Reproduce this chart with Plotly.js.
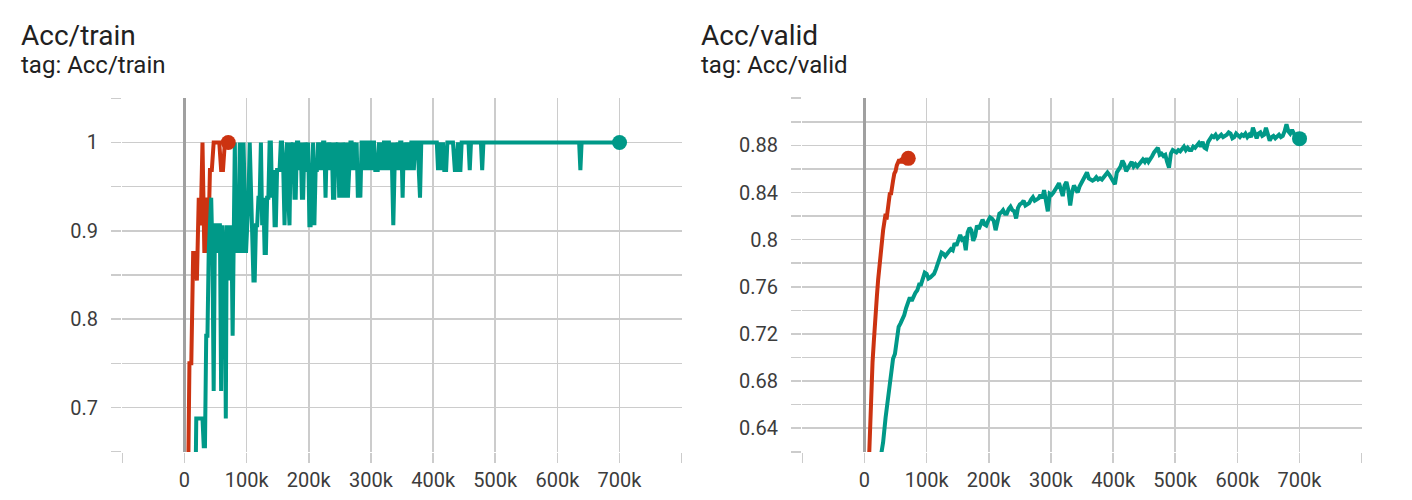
<!DOCTYPE html>
<html><head><meta charset="utf-8">
<script src="https://cdn.plot.ly/plotly-3.0.1.min.js"></script>
<style>html,body{margin:0;padding:0;background:#fff}#chart{width:1412px;height:500px}</style>
</head><body><div id="chart"></div>
<script>
// ---------- data ----------
const trainRedSteps = [5000, 8000, 11000, 14000, 17000, 20000, 23000, 26000, 29000, 32000, 35000, 38000, 41000, 44000, 47000, 50000, 53000, 56000, 59000, 62000, 65000, 68000, 70500];
const trainRedAcc = [0.5625, 0.75, 0.75, 0.875, 0.875, 0.84375, 0.9375, 0.90625, 1.0, 0.875, 0.9375, 0.875, 0.96875, 0.96875, 1.0, 1.0, 1.0, 1.0, 0.96875, 0.96875, 1.0, 1.0, 1.0];

const trainTealSteps = [17500, 19000, 21000, 23000, 25000, 27000, 29000, 31000, 33000, 35000, 37000, 39000, 41000, 43000, 45000, 47000, 49000, 51000, 53000, 55000, 57000, 59000, 61000, 63000, 65000, 66500, 68000, 70000, 72000, 74000, 76000, 77500, 79000, 81000, 83000, 85000, 87000, 89000, 91000, 93000, 95000, 97000, 99000, 101000, 103000, 105000, 107000, 109000, 111000, 113000, 115000, 117000, 119000, 121000, 123000, 125000, 127000, 129000, 131000, 133000, 135000, 137000, 139000, 141000, 143000, 145000, 147000, 149000, 151000, 153000, 155000, 157000, 159000, 161000, 163000, 165000, 167000, 169000, 171000, 173000, 175000, 177000, 179000, 181000, 183000, 185000, 187000, 189000, 191000, 193000, 195000, 197000, 199000, 201000, 203000, 205000, 207000, 209000, 211000, 213000, 215000, 217000, 219000, 221000, 223000, 225000, 227000, 229000, 231000, 233000, 235000, 237000, 239000, 241000, 243000, 245000, 247000, 249000, 251000, 253000, 255000, 257000, 259000, 261000, 263000, 265000, 267000, 269000, 271000, 273000, 275000, 277000, 279000, 281000, 283000, 285000, 287000, 289000, 291000, 293000, 295000, 297000, 299000, 301000, 303000, 305000, 307000, 309000, 311000, 313000, 315000, 317000, 319000, 321000, 323000, 325000, 327000, 329000, 331000, 333000, 336000, 339000, 341000, 343000, 345000, 347000, 349000, 351000, 353000, 355000, 357000, 359000, 361000, 363000, 365000, 367000, 369000, 371000, 373000, 375000, 377000, 379000, 381000, 406000, 408000, 410000, 413000, 416000, 418000, 421000, 423000, 432000, 435000, 437000, 440000, 442000, 444000, 446000, 457000, 459000, 461000, 477000, 479000, 481000, 635000, 637000, 639000, 700000];
const trainTealAcc = [0.59375, 0.6875, 0.6875, 0.6875, 0.6875, 0.6875, 0.6875, 0.65625, 0.65625, 0.78125, 0.78125, 0.875, 0.90625, 0.9375, 0.875, 0.71875, 0.90625, 0.90625, 0.875, 0.90625, 0.90625, 0.71875, 0.90625, 0.875, 0.84375, 0.6875, 0.90625, 0.875, 0.84375, 0.90625, 0.875, 0.78125, 0.90625, 1.0, 0.875, 0.9375, 0.875, 1.0, 0.90625, 0.875, 1.0, 0.9375, 0.875, 0.90625, 0.9375, 1.0, 0.9375, 0.90625, 0.84375, 0.84375, 0.90625, 0.90625, 0.9375, 0.9375, 1.0, 0.90625, 0.9375, 0.875, 0.875, 0.9375, 0.9375, 1.0, 1.0, 0.9375, 0.96875, 0.90625, 0.90625, 0.96875, 0.96875, 0.96875, 1.0, 1.0, 0.96875, 0.90625, 0.96875, 1.0, 0.9375, 0.90625, 1.0, 0.96875, 1.0, 0.9375, 0.9375, 1.0, 1.0, 0.96875, 1.0, 0.9375, 0.9375, 1.0, 0.96875, 0.96875, 1.0, 0.90625, 0.90625, 0.96875, 1.0, 0.90625, 0.96875, 0.96875, 1.0, 0.96875, 1.0, 0.96875, 1.0, 1.0, 0.9375, 1.0, 0.96875, 1.0, 0.96875, 1.0, 0.9375, 0.9375, 1.0, 0.96875, 1.0, 0.9375, 1.0, 0.9375, 1.0, 0.96875, 0.9375, 1.0, 0.9375, 0.96875, 1.0, 1.0, 0.96875, 1.0, 0.96875, 1.0, 0.9375, 0.96875, 0.9375, 1.0, 1.0, 0.96875, 1.0, 1.0, 0.96875, 1.0, 1.0, 0.96875, 1.0, 1.0, 0.96875, 0.96875, 0.96875, 1.0, 0.96875, 1.0, 0.96875, 1.0, 1.0, 0.96875, 1.0, 1.0, 0.96875, 1.0, 0.90625, 1.0, 0.96875, 1.0, 0.96875, 1.0, 1.0, 0.9375, 1.0, 0.96875, 1.0, 0.96875, 1.0, 0.96875, 1.0, 1.0, 0.96875, 1.0, 1.0, 1.0, 0.96875, 0.9375, 1.0, 1.0, 0.96875, 1.0, 0.96875, 1.0, 0.96875, 0.96875, 1.0, 1.0, 0.96875, 0.96875, 1.0, 0.96875, 0.96875, 1.0, 1.0, 0.96875, 1.0, 1.0, 0.96875, 1.0, 1.0, 0.96875, 1.0, 1.0];

const validRedSteps = [5000, 7000, 9000, 11000, 13000, 15000, 17000, 18500, 20000, 22000, 24000, 26000, 28000, 30000, 32000, 34000, 35500, 37000, 39000, 41000, 42500, 44000, 46000, 48000, 50000, 52000, 54000, 56000, 58000, 60000, 62000, 64000, 66000, 68000, 70500];
const validRedAcc = [0.58, 0.615, 0.652, 0.672, 0.696, 0.713, 0.733, 0.738, 0.752, 0.766, 0.777, 0.791, 0.800, 0.808, 0.815, 0.822, 0.817, 0.825, 0.834, 0.840, 0.838, 0.846, 0.850, 0.856, 0.858, 0.863, 0.866, 0.868, 0.865, 0.869, 0.867, 0.868, 0.866, 0.869, 0.869];

const validTealSteps = [26000, 30000, 34000, 37000, 40000, 43000, 46000, 49000, 52000, 55000, 58000, 61000, 64000, 67000, 70000, 73000, 76000, 79000, 82000, 85000, 88000, 91000, 94000, 97000, 100000, 103000, 106000, 109000, 112000, 115000, 118000, 121000, 124000, 127000, 130000, 133000, 136000, 139000, 142000, 145000, 148000, 151000, 154000, 157000, 160000, 163000, 166000, 169000, 172000, 175000, 178000, 181000, 184000, 187000, 190000, 193000, 196000, 199000, 202000, 205000, 208000, 211000, 214000, 217000, 220000, 223000, 226000, 229000, 232000, 235000, 238000, 241000, 244000, 247000, 250000, 253000, 256000, 259000, 262000, 265000, 268000, 271000, 274000, 277000, 280000, 283000, 286000, 289000, 292000, 295000, 298000, 301000, 304000, 307000, 310000, 313000, 316000, 319000, 322000, 325000, 328000, 331000, 334000, 337000, 340000, 343000, 346000, 349000, 352000, 355000, 358000, 361000, 364000, 367000, 370000, 373000, 376000, 379000, 382000, 385000, 388000, 391000, 394000, 397000, 400000, 403000, 406000, 409000, 412000, 415000, 418000, 421000, 424000, 427000, 430000, 433000, 436000, 439000, 442000, 445000, 448000, 451000, 454000, 457000, 460000, 463000, 466000, 469000, 472000, 475000, 478000, 481000, 484000, 487000, 490000, 493000, 496000, 499000, 502000, 505000, 508000, 511000, 514000, 517000, 520000, 523000, 526000, 529000, 532000, 535000, 538000, 541000, 544000, 547000, 550000, 553000, 556000, 559000, 562000, 565000, 568000, 571000, 574000, 577000, 580000, 583000, 586000, 589000, 592000, 595000, 598000, 601000, 604000, 607000, 610000, 613000, 616000, 619000, 622000, 625000, 628000, 631000, 634000, 637000, 640000, 643000, 646000, 649000, 652000, 655000, 658000, 661000, 664000, 667000, 670000, 673000, 676000, 679000, 682000, 685000, 688000, 691000, 694000, 697000, 700000];
const validTealAcc = [0.615, 0.628, 0.649, 0.661, 0.672, 0.688, 0.699, 0.703, 0.716, 0.726, 0.729, 0.732, 0.736, 0.742, 0.747, 0.751, 0.748, 0.752, 0.755, 0.757, 0.762, 0.762, 0.766, 0.772, 0.771, 0.767, 0.768, 0.769, 0.771, 0.775, 0.780, 0.784, 0.789, 0.788, 0.786, 0.788, 0.790, 0.792, 0.791, 0.797, 0.795, 0.800, 0.804, 0.800, 0.801, 0.791, 0.806, 0.810, 0.808, 0.799, 0.803, 0.812, 0.809, 0.813, 0.817, 0.813, 0.812, 0.816, 0.819, 0.818, 0.816, 0.808, 0.815, 0.822, 0.823, 0.825, 0.822, 0.822, 0.826, 0.828, 0.825, 0.824, 0.818, 0.827, 0.830, 0.831, 0.833, 0.829, 0.830, 0.831, 0.834, 0.836, 0.833, 0.834, 0.835, 0.838, 0.835, 0.842, 0.833, 0.824, 0.839, 0.838, 0.840, 0.842, 0.845, 0.848, 0.842, 0.837, 0.846, 0.849, 0.842, 0.829, 0.840, 0.846, 0.843, 0.840, 0.845, 0.848, 0.850, 0.853, 0.857, 0.852, 0.851, 0.850, 0.851, 0.853, 0.851, 0.852, 0.851, 0.853, 0.855, 0.857, 0.855, 0.852, 0.849, 0.847, 0.857, 0.860, 0.862, 0.867, 0.864, 0.858, 0.861, 0.863, 0.866, 0.862, 0.864, 0.862, 0.864, 0.866, 0.868, 0.866, 0.869, 0.866, 0.868, 0.871, 0.874, 0.876, 0.878, 0.872, 0.873, 0.871, 0.872, 0.866, 0.861, 0.873, 0.876, 0.875, 0.874, 0.876, 0.875, 0.877, 0.879, 0.876, 0.878, 0.876, 0.876, 0.879, 0.878, 0.880, 0.882, 0.879, 0.883, 0.878, 0.877, 0.883, 0.885, 0.888, 0.887, 0.889, 0.886, 0.887, 0.889, 0.887, 0.888, 0.889, 0.891, 0.890, 0.886, 0.887, 0.890, 0.888, 0.887, 0.889, 0.888, 0.890, 0.887, 0.889, 0.887, 0.895, 0.889, 0.886, 0.890, 0.891, 0.888, 0.889, 0.895, 0.889, 0.884, 0.887, 0.888, 0.886, 0.888, 0.889, 0.887, 0.888, 0.892, 0.898, 0.892, 0.890, 0.893, 0.889, 0.887, 0.888, 0.8857];

const xTickVals = [0, 100000, 200000, 300000, 400000, 500000, 600000, 700000];
const xTickText = ['0', '100k', '200k', '300k', '400k', '500k', '600k', '700k'];
const trainTickVals = [0.7, 0.8, 0.9, 1];
const trainTickText = ['0.7', '0.8', '0.9', '1'];
const validTickVals = [0.64, 0.68, 0.72, 0.76, 0.8, 0.84, 0.88];
const validTickText = ['0.64', '0.68', '0.72', '0.76', '0.8', '0.84', '0.88'];

const titles = ['Acc/train', 'Acc/valid'];
const subtitles = ['tag: Acc/train', 'tag: Acc/valid'];

// ---------- style ----------
const RED = '#cc3311', TEAL = '#009988';
const GRID = '#cccccc';
const FONT = 'Roboto, "Noto Sans", sans-serif';
const tickFont = {family: FONT, size: 20, color: '#3c3c3c'};

function lineTrace(x, y, color, xa, ya) {
  return {x: x, y: y, type: 'scatter', mode: 'lines', xaxis: xa, yaxis: ya,
    line: {color: color, width: 4, shape: 'linear'}, hoverinfo: 'skip', showlegend: false};
}
function endTrace(x, y, color, xa, ya) {
  return {x: [x[x.length - 1]], y: [y[y.length - 1]], type: 'scatter', mode: 'markers',
    xaxis: xa, yaxis: ya, cliponaxis: false,
    marker: {color: color, size: 15}, hoverinfo: 'skip', showlegend: false};
}

const data = [
  lineTrace(trainRedSteps, trainRedAcc, RED, 'x', 'y'),
  lineTrace(trainTealSteps, trainTealAcc, TEAL, 'x', 'y'),
  endTrace(trainTealSteps, trainTealAcc, TEAL, 'x', 'y'),
  endTrace(trainRedSteps, trainRedAcc, RED, 'x', 'y'),
  lineTrace(validRedSteps, validRedAcc, RED, 'x2', 'y2'),
  lineTrace(validTealSteps, validTealAcc, TEAL, 'x2', 'y2'),
  endTrace(validRedSteps, validRedAcc, RED, 'x2', 'y2'),
  endTrace(validTealSteps, validTealAcc, TEAL, 'x2', 'y2')
];

const W = 1412, H = 500;
const yDomain = [1 - 452 / H, 1 - 98 / H];

function xAxis(domain, anchor) {
  return {domain: domain, anchor: anchor, range: [-100500, 800500],
    tickmode: 'array', tickvals: xTickVals, ticktext: xTickText,
    showgrid: true, gridcolor: GRID, gridwidth: 1.5,
    ticks: 'outside', ticklen: 10, tickwidth: 1.5, tickcolor: GRID,
    ticklabelstandoff: 0,
    tickfont: tickFont, showline: false,
    zeroline: true, zerolinecolor: '#a0a0a0', zerolinewidth: 3,
    minor: {tickmode: 'linear', tick0: 0, dtick: 100000, showgrid: true, gridcolor: GRID, gridwidth: 1.5,
      ticks: 'outside', ticklen: 10, tickwidth: 1.5, tickcolor: GRID},
    fixedrange: true};
}
function yAxis(domain, anchor, range, vals, text, minorStep) {
  return {domain: domain, anchor: anchor, range: range,
    tickmode: 'array', tickvals: vals, ticktext: text,
    showgrid: true, gridcolor: GRID, gridwidth: 1.5,
    ticks: 'outside', ticklen: 10, tickwidth: 1.5, tickcolor: GRID,
    ticklabelstandoff: 9,
    tickfont: tickFont, showline: false, zeroline: false,
    minor: {tickmode: 'linear', tick0: 0, dtick: minorStep, showgrid: true, gridcolor: GRID, gridwidth: 1.5,
      ticks: 'outside', ticklen: 10, tickwidth: 1.5, tickcolor: GRID},
    fixedrange: true};
}

function titleAnn(text, xpx, ypx, size) {
  return {text: text, xref: 'paper', yref: 'paper', x: xpx / W, y: 1 - ypx / H,
    xanchor: 'left', yanchor: 'middle', showarrow: false,
    font: {family: FONT, size: size, color: '#212121'}};
}

const layout = {
  width: W, height: H,
  margin: {l: 0, r: 0, t: 0, b: 0},
  paper_bgcolor: '#ffffff', plot_bgcolor: '#ffffff',
  showlegend: false,
  xaxis: xAxis([122 / W, 682 / W], 'y'),
  yaxis: yAxis(yDomain, 'x', [0.6497, 1.0503], trainTickVals, trainTickText, 0.05),
  xaxis2: xAxis([802 / W, 1362 / W], 'y2'),
  yaxis2: yAxis(yDomain, 'x2', [0.6198, 0.9202], validTickVals, validTickText, 0.02),
  annotations: [
    titleAnn(titles[0], 19, 36, 28),
    titleAnn(subtitles[0], 19, 65, 24),
    titleAnn(titles[1], 699, 36, 28),
    titleAnn(subtitles[1], 699, 65, 24)
  ]
};

Plotly.newPlot('chart', data, layout, {displayModeBar: false, staticPlot: true});
</script></body></html>
